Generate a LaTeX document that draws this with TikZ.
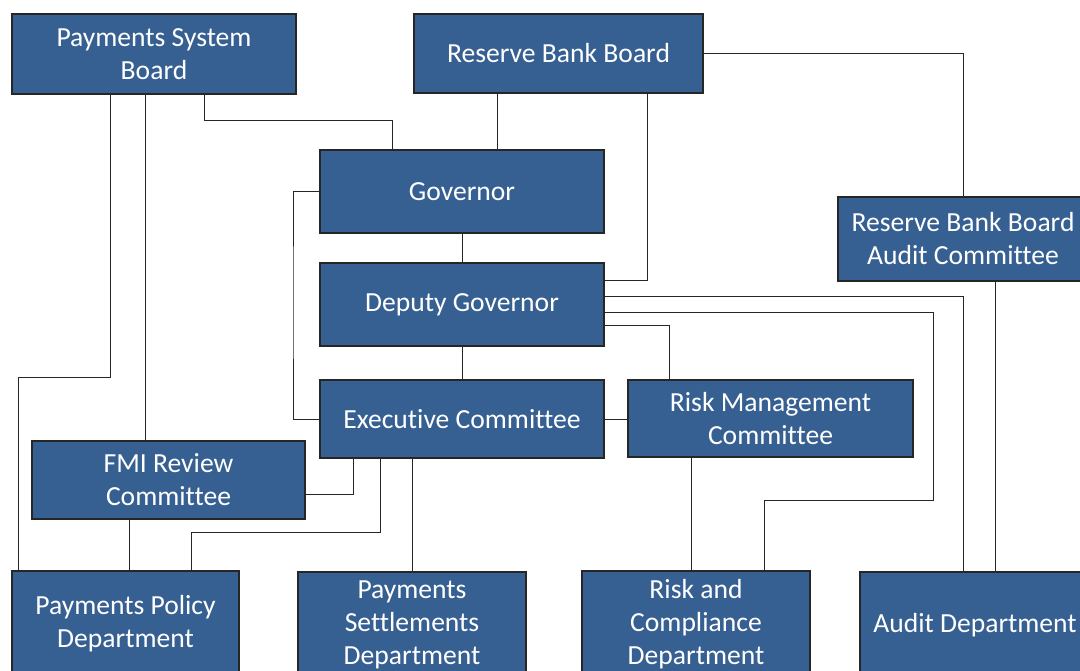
\documentclass[tikz,border=0pt]{standalone}
\usepackage{fontspec}
\setmainfont[Ligatures=NoCommon]{Carlito}
\usetikzlibrary{positioning}
\definecolor{boxblue}{RGB}{55,96,146}

\begin{document}
\begin{tikzpicture}[x=1pt, y=-1pt,
orgbox/.style={rectangle, draw=black!85, fill=boxblue, text=white, line width=1.1pt, inner sep=0pt, align=center, font=\fontsize{27.6}{33}\selectfont},
link/.style={draw=black!85, line width=1pt},
]
\useasboundingbox (0,0) rectangle (1080,670);
%Nodes
\node[orgbox, minimum width=284, minimum height=80]  (psb)   at (154,54)    {Payments System\\Board};
\node[orgbox, minimum width=289, minimum height=79]  (rbb)   at (558.5,53.5) {Reserve Bank Board};
\node[orgbox, minimum width=284, minimum height=83]  (gov)   at (462,191.5) {Governor};
\node[orgbox, minimum width=284, minimum height=83]  (dg)    at (462,304.5) {Deputy Governor};
\node[orgbox, minimum width=284, minimum height=78]  (ec)    at (462,419)   {Executive Committee};
\node[orgbox, minimum width=285, minimum height=77]  (rmc)   at (770.5,418.5) {Risk Management\\Committee};
\node[orgbox, minimum width=250, minimum height=84]  (rbbac) at (963,239)   {Reserve Bank Board\\Audit Committee};
\node[orgbox, minimum width=273, minimum height=78]  (fmi)   at (168.5,480) {FMI Review\\Committee};
\node[orgbox, minimum width=227, minimum height=106] (ppd)   at (125.5,624) {Payments Policy\\Department};
\node[orgbox, minimum width=228, minimum height=106] (psd)   at (412,625)   {Payments\\Settlements\\Department};
\node[orgbox, minimum width=228, minimum height=106] (rcd)   at (696,624)   {Risk and\\Compliance\\Department};
\node[orgbox, minimum width=230, minimum height=106] (ad)    at (975,625)   {Audit Department};

%Lines
\draw[link] (psb.south -| 110,0) |- (18,377) -- (ppd.north -| 18,0);
\draw[link] (psb.south -| 145,0) -- (fmi.north -| 145,0);
\draw[link] (psb.south -| 204,0) |- (392,120) -- (gov.north -| 392,0);
\draw[link] (rbb.south -| 497,0) -- (gov.north -| 497,0);
\draw[link] (rbb.south -| 647,0) |- (dg.east |- 0,280);
\draw[link] (rbb.east) -| (rbbac.north);
\draw[link] (gov.west) -| (293,300) |- (ec.west);
\draw[link] (gov) -- (dg);
\draw[link] (dg) -- (ec);
\draw[link] (ec.east) -- (rmc.west |- ec.east);
\draw[link] (dg.east |- 0,296) -| (ad.north -| 963,0);
\draw[link] (dg.east |- 0,312) -| (933,500) -| (rcd.north -| 764,0);
\draw[link] (dg.east |- 0,325) -| (rmc.north -| 669,0);
\draw[link] (rbbac.south -| 995,0) -- (ad.north -| 995,0);
\draw[link] (rmc.south -| 691,0) -- (rcd.north -| 691,0);
\draw[link] (fmi.east |- 0,494) -| (ec.south -| 353,0);
\draw[link] (ec.south -| 380,0) |- (191,532) -- (ppd.north -| 191,0);
\draw[link] (ec.south -| 412,0) -- (psd.north -| 412,0);
\draw[link] (fmi.south -| 129,0) -- (ppd.north -| 129,0);
\end{tikzpicture}
\end{document}
